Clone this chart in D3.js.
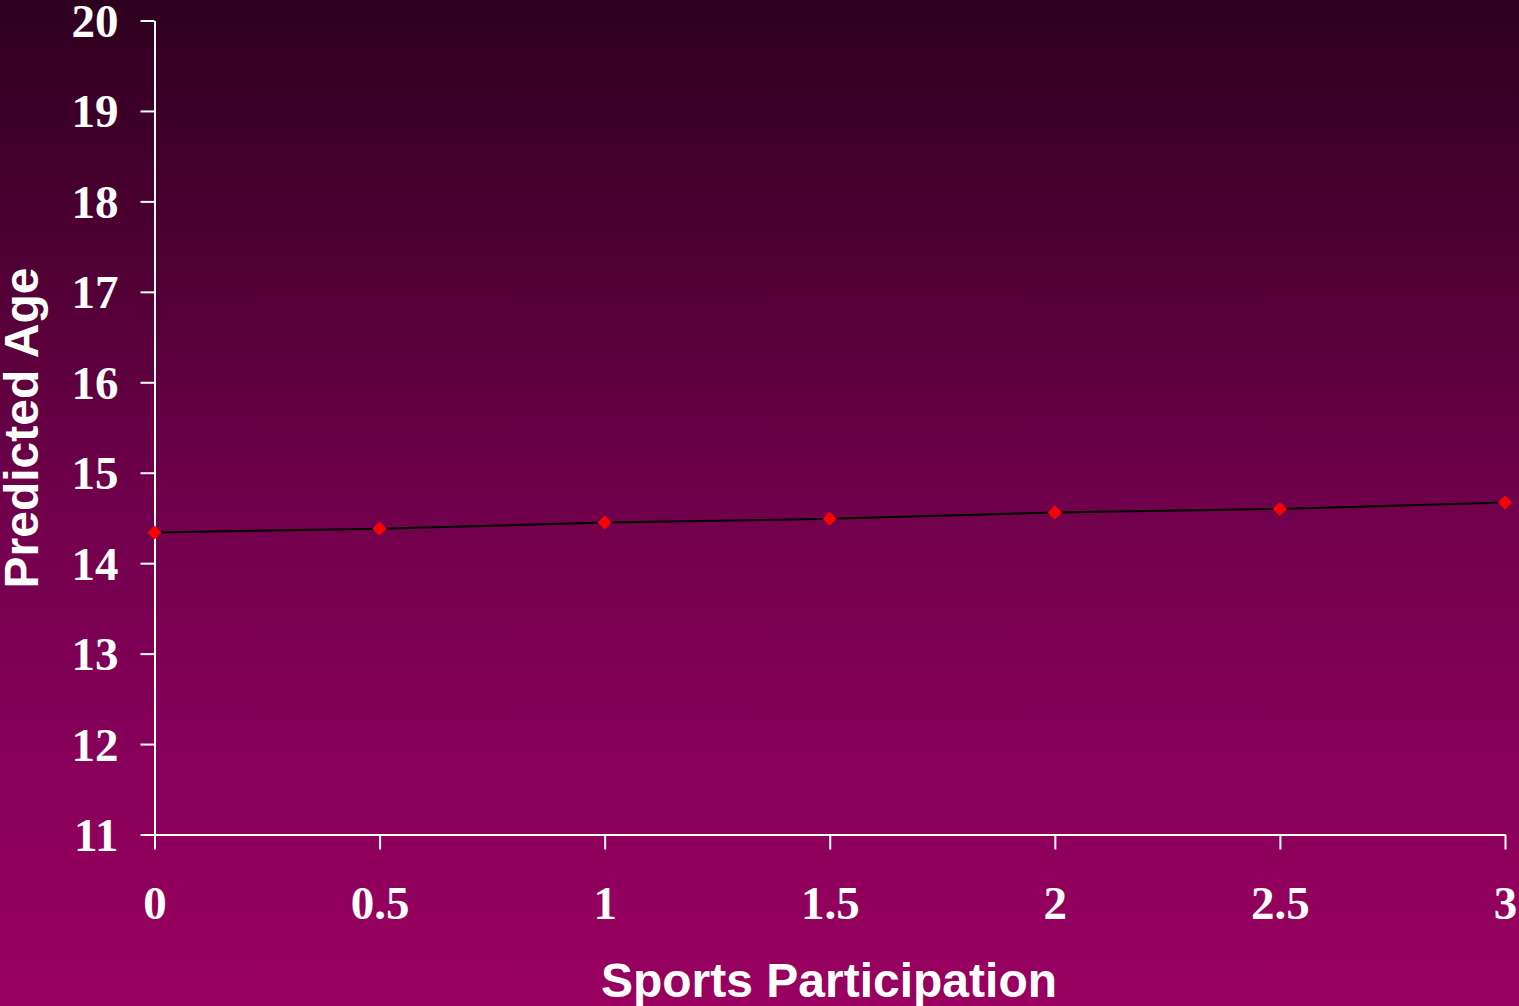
<!DOCTYPE html>
<html>
<head>
<meta charset="utf-8">
<script src="https://cdn.jsdelivr.net/npm/d3@7"></script>
<style>
  html, body { margin: 0; padding: 0; overflow: hidden; }
  svg { display: block; }
</style>
</head>
<body>
<script>
// Predicted age across levels of sports participation
const participation = [0, 0.5, 1, 1.5, 2, 2.5, 3];
const predictedAge = [14.34, 14.38, 14.45, 14.49, 14.56, 14.60, 14.67];
const yTicks = [11, 12, 13, 14, 15, 16, 17, 18, 19, 20];
const xTicks = [0, 0.5, 1, 1.5, 2, 2.5, 3];
const xTitle = "Sports Participation";
const yTitle = "Predicted Age";

const W = 1519, H = 1006;
const svg = d3.select("body").append("svg").attr("width", W).attr("height", H);

// Vertical background gradient, dark plum at the top to magenta at the bottom
const defs = svg.append("defs");
const grad = defs.append("linearGradient").attr("id", "bg")
  .attr("x1", 0).attr("y1", 0).attr("x2", 0).attr("y2", 1);
[["0%", "#2e001f"], ["25%", "#4e0033"], ["50%", "#70004b"], ["75%", "#87005a"], ["100%", "#99005f"]]
  .forEach(([o, c]) => grad.append("stop").attr("offset", o).attr("stop-color", c));
svg.append("rect").attr("width", W).attr("height", H).attr("fill", "url(#bg)");

const x = d3.scaleLinear().domain([0, 3]).range([154.5, 1505]);
const y = d3.scaleLinear().domain([11, 20]).range([834.5, 20.5]);

const fmt = d => String(d);

const yAxis = svg.append("g").attr("transform", `translate(${x(0)},0)`)
  .call(d3.axisLeft(y).tickValues(yTicks).tickFormat(fmt).tickSize(14).tickSizeOuter(0).tickPadding(22));
const xAxis = svg.append("g").attr("transform", `translate(0,${y(11)})`)
  .call(d3.axisBottom(x).tickValues(xTicks).tickFormat(fmt).tickSize(15).tickSizeOuter(0).tickPadding(36));

[yAxis, xAxis].forEach(g => {
  g.select(".domain").attr("stroke", "#ffffff").attr("stroke-width", 2);
  g.selectAll(".tick line").attr("stroke", "#ffffff").attr("stroke-width", 2);
  g.selectAll(".tick text")
    .attr("fill", "#ffffff")
    .attr("font-family", "'Liberation Serif', 'Times New Roman', serif")
    .attr("font-weight", "bold")
    .attr("font-size", 47);
});
yAxis.selectAll(".tick text").attr("dy", "0.34em");
xAxis.selectAll(".tick text").attr("dy", "0.72em");

// Trend line
svg.append("path")
  .datum(participation.map((p, i) => [p, predictedAge[i]]))
  .attr("fill", "none")
  .attr("stroke", "#000000")
  .attr("stroke-width", 2)
  .attr("d", d3.line().x(d => x(d[0])).y(d => y(d[1])));

// Diamond markers
svg.append("g").selectAll("path")
  .data(participation.map((p, i) => [p, predictedAge[i]]))
  .join("path")
  .attr("transform", d => `translate(${x(d[0])},${y(d[1])})`)
  .attr("d", "M0,-7L7,0L0,7L-7,0Z")
  .attr("fill", "#ff0000");

// Axis titles
svg.append("text")
  .attr("x", 829).attr("y", 997)
  .attr("text-anchor", "middle")
  .attr("fill", "#ffffff")
  .attr("font-family", "'Liberation Sans', Arial, sans-serif")
  .attr("font-weight", "bold")
  .attr("font-size", 48)
  .text(xTitle);

svg.append("text")
  .attr("transform", "translate(38,428) rotate(-90)")
  .attr("text-anchor", "middle")
  .attr("fill", "#ffffff")
  .attr("font-family", "'Liberation Sans', Arial, sans-serif")
  .attr("font-weight", "bold")
  .attr("font-size", 48)
  .text(yTitle);
</script>
</body>
</html>
